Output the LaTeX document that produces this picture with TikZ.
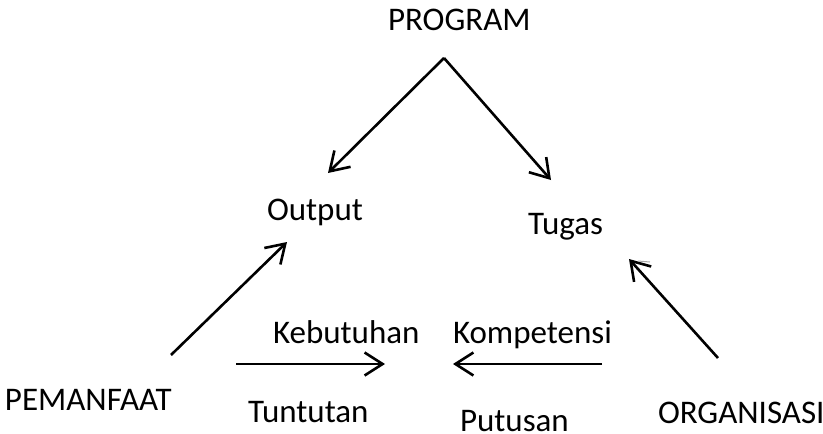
\documentclass[tikz,border=0pt]{standalone}
\usepackage{fontspec}
\setmainfont{Carlito}
\usetikzlibrary{arrows.meta}
\begin{document}
\begin{tikzpicture}[x=1pt,y=-1pt,
  lbl/.style={anchor=base west,inner sep=0pt,outer sep=0pt,font=\fontsize{33}{40}\selectfont},
  arr/.style={line width=2.6pt,-{Straight Barb[length=18pt,width=23pt,line width=2.6pt]}}]
\useasboundingbox (0,0) rectangle (823,434);
% labels
\node[lbl] (program) at (388,30) {PROGRAM};
\node[lbl] (output) at (267,220) {Output};
\node[lbl] (tugas) at (528,234) {Tugas};
\node[lbl] (kebutuhan) at (273,343) {Kebutuhan};
\node[lbl] (kompetensi) at (453,343) {Kompetensi};
\node[lbl] (pemanfaat) at (5,410) {PEMANFAAT};
\node[lbl] (tuntutan) at (248,422) {Tuntutan};
\node[lbl] (putusan) at (460,431) {Putusan};
\node[lbl] (organisasi) at (658,423) {ORGANISASI};
% connector end points
\coordinate (apex) at (444,58);
\coordinate (outin) at (328,173);
\coordinate (tugin) at (551,180);
\coordinate (pemout) at (171,355);
\coordinate (outin2) at (287,242);
\coordinate (orgout) at (718,358);
\coordinate (tugin2) at (629,259);
\coordinate (kebs) at (236,364);
\coordinate (kebe) at (385,364);
\coordinate (koms) at (602,364);
\coordinate (kome) at (453,364);
\coordinate (marka) at (638,261);
\coordinate (markb) at (650,262);
% connectors
\draw[arr] (apex) -- (outin);
\draw[arr] (apex) -- (tugin);
\draw[arr] (pemout) -- (outin2);
\draw[arr] (orgout) -- (tugin2);
\draw[arr] (kebs) -- (kebe);
\draw[arr] (koms) -- (kome);
\draw[line width=1pt,gray!70] (marka) -- (markb);
\end{tikzpicture}
\end{document}
